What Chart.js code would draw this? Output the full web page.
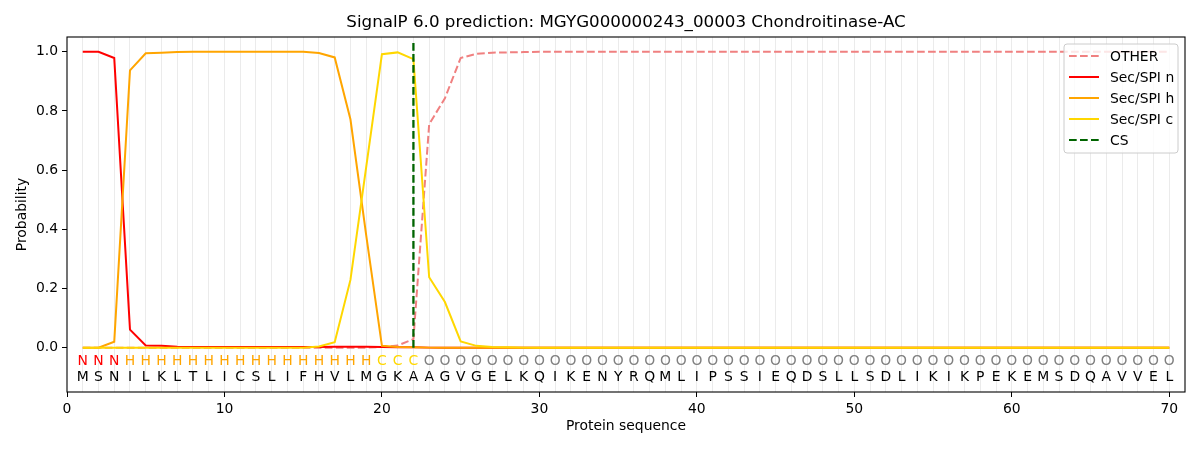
<!DOCTYPE html>
<html lang="en">

<head>
    <meta charset="UTF-8">
    <title>SignalP 6.0 prediction</title>
    <style>
        body { margin: 0; background: #fff; }
        #grafico { display: block; }
    </style>
</head>

<body>
    <canvas id="grafico" width="1200" height="450"></canvas>

    <script src="https://cdn.jsdelivr.net/npm/chart.js"></script>
    <script>
        // dados (posicoes 1..70)
        var sequencia = 'MSNILKLTLICSLIFHVLMGKAAGVGELKQIKENYRQMLIPSSIEQDSLLSDLIKIKPEKEMSDQAVVEL'.split('');
        var rotulos = 'NNNHHHHHHHHHHHHHHHHCCCOOOOOOOOOOOOOOOOOOOOOOOOOOOOOOOOOOOOOOOOOOOOOOOO'.split('');

        var dados_other = [
            0, 0, 0, 0, 0, 0, 0, 0, 0, 0,
            0, 0, 0, 0, 0, 0, 0, 0, 0, 0.002,
            0.007, 0.029, 0.755, 0.843, 0.979, 0.993, 0.997, 0.998, 0.999, 1,
            1, 1, 1, 1, 1, 1, 1, 1, 1, 1,
            1, 1, 1, 1, 1, 1, 1, 1, 1, 1,
            1, 1, 1, 1, 1, 1, 1, 1, 1, 1,
            1, 1, 1, 1, 1, 1, 1, 1, 1, 1
        ];
        var dados_n = [
            1, 1, 0.979, 0.061, 0.007, 0.006, 0.003, 0.002, 0.002, 0.002,
            0.002, 0.002, 0.002, 0.002, 0.002, 0.002, 0.003, 0.003, 0.003, 0.002,
            0.001, 0.001, 0, 0, 0, 0, 0, 0, 0, 0,
            0, 0, 0, 0, 0, 0, 0, 0, 0, 0,
            0, 0, 0, 0, 0, 0, 0, 0, 0, 0,
            0, 0, 0, 0, 0, 0, 0, 0, 0, 0,
            0, 0, 0, 0, 0, 0, 0, 0, 0, 0
        ];
        var dados_h = [
            0, 0, 0.02, 0.937, 0.995, 0.997, 0.999, 1, 1, 1,
            1, 1, 1, 1, 1, 0.996, 0.981, 0.772, 0.38, 0.006,
            0.002, 0.001, 0, 0, 0, 0, 0, 0, 0, 0,
            0, 0, 0, 0, 0, 0, 0, 0, 0, 0,
            0, 0, 0, 0, 0, 0, 0, 0, 0, 0,
            0, 0, 0, 0, 0, 0, 0, 0, 0, 0,
            0, 0, 0, 0, 0, 0, 0, 0, 0, 0
        ];
        var dados_c = [
            0, 0, 0, 0, 0, 0, 0, 0, 0, 0,
            0, 0, 0, 0, 0, 0.004, 0.018, 0.229, 0.61, 0.992,
            0.998, 0.975, 0.238, 0.154, 0.021, 0.006, 0.002, 0.001, 0, 0,
            0, 0, 0, 0, 0, 0, 0, 0, 0, 0,
            0, 0, 0, 0, 0, 0, 0, 0, 0, 0,
            0, 0, 0, 0, 0, 0, 0, 0, 0, 0,
            0, 0, 0, 0, 0, 0, 0, 0, 0, 0
        ];
        // linha vertical do sitio de clivagem
        var cs_x = [22, 22];
        var cs_y = [0, 1.04];

        var ticks_y = [0, 0.2, 0.4, 0.6, 0.8, 1.0];

        var titulo = 'SignalP 6.0 prediction: MGYG000000243_00003 Chondroitinase-AC';
        var cores_rotulos = { N: '#ff0000', H: '#ffa500', C: '#ffd700', O: '#808080' };
        var fonte = 'DejaVu Sans';
        var tracejado = [7.7, 3.3];

        function pontos(valores) {
            var lista = [];
            for (let i = 0; i < valores.length; i++) {
                lista.push({ x: i + 1, y: valores[i] });
            }
            return lista;
        }

        var legendaItens = [
            { texto: 'OTHER', cor: '#f08080', dash: tracejado },
            { texto: 'Sec/SPI n', cor: '#ff0000', dash: [] },
            { texto: 'Sec/SPI h', cor: '#ffa500', dash: [] },
            { texto: 'Sec/SPI c', cor: '#ffd700', dash: [] },
            { texto: 'CS', cor: '#006400', dash: tracejado }
        ];

        // letras da sequencia + moldura + titulo + legenda
        var pluginExtras = {
            id: 'extras',
            afterDatasetsDraw(chart) {
                const ctx = chart.ctx;
                const x = chart.scales.x, y = chart.scales.y;
                const area = chart.chartArea;
                ctx.save();
                ctx.font = '13.9px "' + fonte + '"';
                ctx.textAlign = 'center';
                ctx.textBaseline = 'middle';
                for (let i = 0; i < sequencia.length; i++) {
                    const px = x.getPixelForValue(i + 1);
                    ctx.fillStyle = cores_rotulos[rotulos[i]];
                    ctx.fillText(rotulos[i], px, y.getPixelForValue(-0.047));
                    ctx.fillStyle = '#000';
                    ctx.fillText(sequencia[i], px, y.getPixelForValue(-0.102));
                }
                ctx.strokeStyle = '#000';
                ctx.lineWidth = 1.1;
                ctx.strokeRect(area.left, area.top, area.right - area.left, area.bottom - area.top);

                // titulo centrado sobre a area do grafico
                ctx.font = '16.7px "' + fonte + '"';
                ctx.fillText(titulo, (area.left + area.right) / 2, 23);
                ctx.restore();
            },
            afterDraw(chart) {
                const ctx = chart.ctx;
                const area = chart.chartArea;
                const w = 114, h = 109;
                const bx = area.right - 7 - w, by = area.top + 7;
                ctx.save();
                ctx.beginPath();
                ctx.roundRect(bx, by, w, h, 3);
                ctx.fillStyle = 'rgba(255,255,255,0.8)';
                ctx.fill();
                ctx.strokeStyle = '#cccccc';
                ctx.lineWidth = 1;
                ctx.stroke();
                ctx.font = '13.9px "' + fonte + '"';
                ctx.textAlign = 'left';
                ctx.textBaseline = 'middle';
                legendaItens.forEach(function (item, i) {
                    const ly = by + 12 + i * 21;
                    ctx.beginPath();
                    ctx.setLineDash(item.dash);
                    ctx.strokeStyle = item.cor;
                    ctx.lineWidth = 2;
                    ctx.moveTo(bx + 5, ly);
                    ctx.lineTo(bx + 35, ly);
                    ctx.stroke();
                    ctx.setLineDash([]);
                    ctx.fillStyle = '#000';
                    ctx.fillText(item.texto, bx + 46, ly + 1);
                });
                ctx.restore();
            }
        };

        var grafico = new Chart(document.getElementById('grafico'), {
            type: 'line',
            data: {
                datasets: [
                    {
                        label: 'OTHER',
                        data: pontos(dados_other),
                        borderColor: '#f08080',
                        borderDash: tracejado,
                        order: 5
                    },
                    {
                        label: 'Sec/SPI n',
                        data: pontos(dados_n),
                        borderColor: '#ff0000',
                        order: 4
                    },
                    {
                        label: 'Sec/SPI h',
                        data: pontos(dados_h),
                        borderColor: '#ffa500',
                        order: 3
                    },
                    {
                        label: 'Sec/SPI c',
                        data: pontos(dados_c),
                        borderColor: '#ffd700',
                        order: 2
                    },
                    {
                        label: 'CS',
                        data: [{ x: cs_x[0], y: cs_y[0] }, { x: cs_x[1], y: cs_y[1] }],
                        borderColor: '#006400',
                        borderDash: tracejado,
                        borderWidth: 2.3,
                        order: 1
                    }
                ]
            },
            options: {
                responsive: false,
                animation: false,
                devicePixelRatio: 1,
                layout: { padding: { left: 0, right: 15, top: 37, bottom: 0 } },
                elements: {
                    point: { radius: 0 },
                    line: { borderWidth: 2, tension: 0, fill: false }
                },
                plugins: {
                    legend: { display: false },
                    tooltip: { enabled: false },
                    title: { display: false }
                },
                scales: {
                    x: {
                        type: 'linear',
                        min: 0,
                        max: 71,
                        border: { display: false },
                        grid: {
                            color: function (c) {
                                return (c.tick && c.tick.value >= 1 && c.tick.value <= 70) ? '#ebebeb' : 'rgba(0,0,0,0)';
                            },
                            tickColor: function (c) {
                                return (c.tick && c.tick.value % 10 === 0 && c.tick.value <= 70) ? '#000' : 'rgba(0,0,0,0)';
                            },
                            lineWidth: 1,
                            tickLength: 5
                        },
                        ticks: {
                            stepSize: 1,
                            autoSkip: false,
                            maxRotation: 0,
                            padding: 4,
                            color: '#000',
                            font: { family: fonte, size: 13.9 },
                            callback: function (v) {
                                return (v % 10 === 0 && v <= 70) ? String(v) : '';
                            }
                        },
                        title: {
                            display: true,
                            text: 'Protein sequence',
                            color: '#000',
                            font: { family: fonte, size: 13.9 },
                            padding: { top: 0, bottom: 15 }
                        },
                        afterFit: function (s) { s.height = 58; }
                    },
                    y: {
                        type: 'linear',
                        min: -0.15,
                        max: 1.05,
                        border: { display: false },
                        grid: {
                            drawOnChartArea: false,
                            color: '#000',
                            tickLength: 5
                        },
                        afterBuildTicks: function (s) {
                            s.ticks = ticks_y.map(function (v) { return { value: v }; });
                        },
                        ticks: {
                            padding: 4,
                            color: '#000',
                            font: { family: fonte, size: 13.9 },
                            callback: function (v) { return Number(v).toFixed(1); }
                        },
                        title: {
                            display: true,
                            text: 'Probability',
                            color: '#000',
                            font: { family: fonte, size: 13.9 },
                            padding: { top: 14, bottom: 0 }
                        },
                        afterFit: function (s) { s.width = 67; }
                    }
                }
            },
            plugins: [pluginExtras]
        });
    </script>
</body>

</html>
